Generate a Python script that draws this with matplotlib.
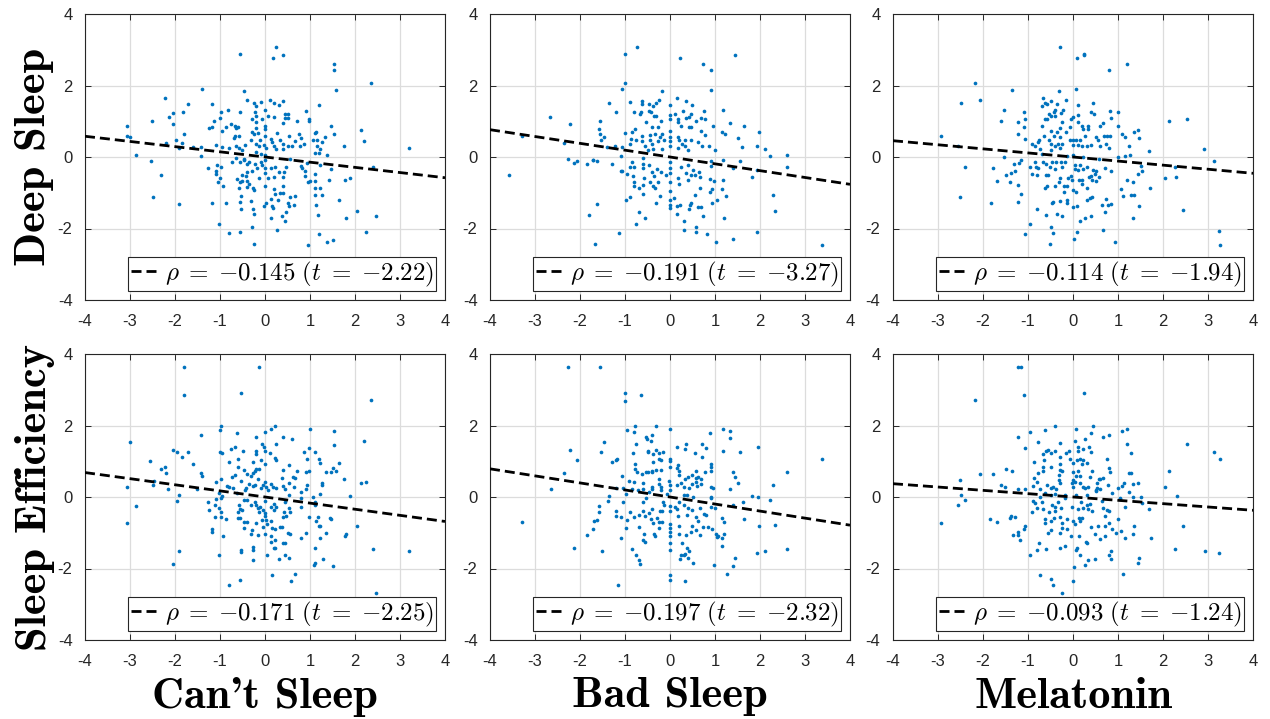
import matplotlib
matplotlib.use('Agg')
import matplotlib.pyplot as plt
import numpy as np

plt.rcParams['mathtext.fontset'] = 'cm'
plt.rcParams['font.family'] = ['Liberation Sans', 'DejaVu Sans']

row_labels = ['Deep Sleep', 'Sleep Efficiency']
col_labels = ["Can't Sleep", 'Bad Sleep', 'Melatonin']
rho = [[-0.145, -0.191, -0.114], [-0.171, -0.197, -0.093]]
tstat = [[-2.22, -3.27, -1.94], [-2.25, -2.32, -1.24]]
x_ticks = [-4, -3, -2, -1, 0, 1, 2, 3, 4]
y_ticks = [-4, -2, 0, 2, 4]

cant_deep = [
(-0.55,2.88),(0.24,3.07),(0.17,2.76),(0.41,2.86),(1.53,2.6),(1.53,2.44),(2.35,2.06),(-1.4,1.91),(-0.47,1.84),(1.58,1.87),
(-2.22,1.65),(-0.41,1.59),(0.1,1.6),(0.21,1.5),(0.39,1.58),(0.32,1.46),(-0.24,1.5),(-0.1,1.54),(-0.2,1.42),(-1.72,1.47),
(1.21,1.45),(-1.18,1.49),(-2.05,1.23),(-2.13,1.12),(-1.82,1.25),(-2.04,0.93),(-2.52,1.02),(-3.07,0.87),(-0.82,1.32),(-0.98,1.26),
(-0.99,1.08),(-1.13,1.0),(-0.56,1.26),(-0.22,1.25),(-0.01,1.32),(-0.19,1.16),(-0.29,1.06),(-0.06,1.06),(-0.19,0.98),(0.06,1.16),
(0.21,1.13),(0.44,1.21),(0.51,1.2),(0.44,1.09),(0.5,1.1),(0.4,0.96),(0.92,1.29),(0.97,1.07),(0.97,1.0),(0.7,1.0),
(-1.24,0.82),(-1.18,0.85),(-0.87,0.84),(-0.76,0.91),(-0.66,0.86),(-0.64,0.8),(-0.61,0.84),(-0.96,0.72),(-1.81,0.65),(-0.19,0.82),
(0.0,0.87),(0.0,0.78),(-0.29,0.69),(-0.24,0.63),(-0.16,0.66),(0.01,0.6),(0.27,0.68),(0.54,0.6),(0.76,0.64),(1.1,0.68),
(1.14,0.69),(1.46,0.87),(1.53,0.65),(2.13,0.76),(1.33,0.55),(2.2,0.46),(-3.07,0.6),(-3.0,0.56),(-1.97,0.48),(-2.21,0.4),
(-1.85,0.4),(-1.91,0.25),(-1.6,0.28),(-1.43,0.28),(-1.1,0.33),(-0.96,0.28),(-0.8,0.26),(-0.64,0.3),(-0.58,0.26),(-0.45,0.33),
(-0.67,0.59),(-0.7,0.53),(-0.58,0.6),(-0.51,0.19),(-0.31,0.47),(-0.12,0.48),(-0.2,0.37),(-0.14,0.3),(-0.02,0.33),(0.02,0.26),
(0.13,0.51),(0.16,0.41),(0.21,0.3),(0.24,0.23),(0.33,0.47),(0.39,0.35),(0.41,0.23),(0.5,0.3),(0.59,0.3),(0.66,0.45),
(0.8,0.53),(0.77,0.32),(0.87,0.35),(1.07,0.47),(1.16,0.47),(1.16,0.3),(1.23,0.23),(1.26,0.42),(1.76,0.32),(3.19,0.24),
(-2.87,0.06),(-1.43,0.03),(-0.2,0.14),(-0.08,0.09),(1.1,0.11),(1.19,0.11),(1.37,0.05),(-0.47,-0.05),(0.01,0.05),(0.55,-0.05),
(-2.54,-0.12),(-2.31,-0.51),(-2.48,-1.13),(-1.91,-1.32),(-1.27,-0.31),(-1.1,-0.38),(-1.06,-0.22),(-0.97,-0.27),(-1.09,-0.48),(-0.99,-0.6),
(-1.05,-0.69),(-0.94,-0.8),(-1.18,-1.28),(-0.86,-1.3),(-1.03,-1.87),(-0.8,-2.13),(-0.56,-2.09),(-0.29,-1.96),(-0.25,-2.42),(-0.74,-0.15),
(-0.64,-0.04),(-0.55,-0.13),(-0.46,-0.08),(-0.4,-0.2),(-0.35,-0.13),(-0.22,-0.2),(-0.18,-0.32),(-0.29,-0.38),(-0.4,-0.41),(-0.51,-0.5),
(-0.43,-0.52),(-0.62,-0.61),(-0.56,-0.69),(-0.51,-0.66),(-0.4,-0.66),(-0.35,-0.76),(-0.4,-0.83),(-0.26,-0.88),(-0.24,-0.93),(-0.57,-0.86),
(-0.14,-0.58),(-0.1,-0.13),(-0.07,-0.22),(0.0,-0.08),(0.0,-0.32),(0.0,-0.46),(0.0,-0.8),(0.07,-0.6),(0.14,-0.32),(0.19,-0.55),
(0.23,-0.27),(0.32,-0.43),(0.39,-0.55),(0.43,-0.41),(0.47,-0.28),(0.2,-0.89),(0.22,-1.03),(0.33,-1.0),(0.39,-0.8),(0.41,-1.0),
(0.29,-1.21),(0.13,-1.18),(0.02,-1.3),(-0.03,-1.36),(0.15,-1.36),(0.17,-1.42),(0.55,-1.13),(0.66,-1.09),(0.51,-1.28),(0.54,-1.37),
(0.65,-1.34),(0.47,-1.53),(0.37,-1.65),(0.14,-1.72),(0.44,-1.78),(0.26,-2.03),(-0.53,-1.09),(-0.56,-1.27),(-0.53,-1.46),(-0.27,-1.46),
(-0.24,-1.6),(-0.31,-1.24),(0.79,-0.26),(0.82,-0.3),(0.93,-0.18),(0.88,-0.4),(0.88,-0.53),(1.11,-0.47),(1.12,-0.66),(1.01,-0.66),
(0.96,-0.71),(1.1,-0.87),(1.22,-0.87),(1.12,-1.06),(1.27,-1.06),(1.13,-1.34),(1.18,-1.62),(1.21,-2.15),(0.96,-2.46),(1.38,-2.37),
(1.51,-2.31),(1.22,-0.22),(1.46,-0.34),(1.43,-0.63),(1.77,-0.64),(1.89,-0.58),(1.65,-1.2),(1.81,-1.72),(2.04,-1.5),(2.46,-1.65),
(2.24,-2.1),(2.39,-0.27),
]

bad_deep = [
(-0.74,3.07),(-1.0,2.88),(0.23,2.76),(1.45,2.86),(0.74,2.6),(0.91,2.44),(-1.0,2.06),(-1.07,1.91),(0.91,1.88),(-0.18,1.84),
(-0.88,1.54),(-1.36,1.51),(-0.62,1.58),(-0.62,1.49),(-0.47,1.47),(-0.38,1.42),(-0.31,1.51),(-0.25,1.6),(-0.01,1.46),(0.16,1.65),
(0.36,1.58),(0.48,1.46),(0.76,1.29),(1.18,1.32),(-1.19,1.26),(-0.79,1.26),(-0.67,1.2),(-0.64,1.26),(-0.47,1.28),(-0.42,1.25),
(-0.36,1.15),(-0.32,1.15),(-0.54,0.98),(-0.19,1.0),(-0.01,1.17),(-0.01,1.06),(0.12,1.2),(0.17,1.05),(0.17,0.98),(0.28,1.3),
(0.36,1.1),(0.47,1.21),(0.43,1.12),(0.57,1.0),(0.69,1.1),(0.78,1.07),(0.42,0.85),(0.47,0.85),(0.25,0.88),(-1.56,1.02),
(-1.58,0.79),(-1.55,0.65),(-1.46,0.56),(-1.54,0.48),(-2.66,1.13),(-2.22,0.93),(-3.29,0.59),(-2.36,0.4),(-1.0,0.68),(-0.84,0.71),
(-0.77,0.79),(-0.4,0.84),(-0.27,0.84),(-0.63,0.6),(-0.45,0.62),(-0.34,0.65),(-0.18,0.65),(-0.22,0.56),(-0.01,0.72),(-0.01,0.56),
(-0.01,0.44),(-0.01,0.32),(-0.86,0.5),(-0.76,0.47),(-0.63,0.45),(-0.45,0.47),(-0.39,0.37),(-0.27,0.45),(-0.13,0.48),(0.17,0.56),
(0.21,0.48),(0.27,0.37),(0.34,0.47),(0.46,0.47),(0.62,0.41),(0.68,0.74),(0.77,0.61),(0.86,0.3),(0.96,0.86),(1.15,0.7),
(1.22,0.63),(1.33,0.94),(1.5,0.54),(1.64,0.87),(1.61,0.27),(1.98,0.69),(1.94,0.3),(2.11,0.23),(2.6,0.06),(2.23,0.02),
(-1.39,0.28),(-1.23,0.3),(-1.06,0.28),(-1.1,0.03),(-0.9,0.35),(-0.55,0.32),(-0.5,0.19),(-0.37,0.23),(-0.18,0.23),(0.18,0.26),
(0.34,0.3),(0.4,0.2),(0.71,0.3),(0.99,0.19),(-2.26,-0.05),(-1.71,-0.07),(-3.58,-0.5),
(-2.13,-0.16),(-2.06,-0.12),(-1.84,-0.2),(-1.71,-0.09),(-1.63,-0.12),(-1.28,-0.2),(-1.1,-0.39),(-1.06,-0.39),(-0.95,-0.48),(-0.89,-0.29),
(-0.84,-0.15),(-0.79,-0.27),(-0.83,-0.52),(-0.79,-0.69),(-0.81,-0.8),(-0.68,-0.88),(-0.58,-0.6),(-0.59,-0.78),(-0.61,-1.03),(-0.6,-0.2),
(-0.6,-0.32),(-0.59,-0.02),(-0.47,-0.22),(-0.4,-0.41),(-0.36,-0.52),(-0.45,-0.69),(-0.38,-0.8),(-0.33,-0.88),(-0.27,-0.71),(-0.2,-0.41),
(-0.1,-0.5),(-0.3,-0.34),(-0.01,-0.13),(-0.01,-0.32),(-0.01,-0.46),(-0.01,-0.69),(-0.01,-0.95),(-0.01,-1.2),(-0.01,-1.34),(-0.01,-1.44),
(0.09,-1.14),(0.17,-0.58),(0.2,-0.76),(0.16,-1.36),(0.22,-1.34),(0.16,-1.6),(0.32,-1.78),(0.31,-2.04),(0.24,-0.28),(0.36,-0.46),
(0.4,-0.64),(0.47,-0.49),(0.52,-0.36),(0.56,-0.5),(0.39,-0.22),(0.65,-0.41),(0.66,-0.56),(0.56,-1.06),(0.44,-1.34),(0.42,-1.46),
(0.47,-1.29),(0.63,-1.41),(0.69,-1.39),(0.66,-0.86),(0.73,-1.65),(0.57,-1.96),(0.58,-2.11),(0.83,-2.15),(1.02,-2.37),(1.41,-2.3),
(0.9,-0.11),(0.9,-0.24),(0.89,-0.62),(0.98,-0.67),(0.93,-0.89),(0.89,-0.99),(1.05,-1.2),(0.94,-1.28),(1.15,-0.89),(1.17,-0.64),
(1.25,-1.1),(1.19,-1.72),(1.17,-0.09),(1.56,-0.12),(1.39,-0.32),(1.82,-0.57),(1.94,-0.37),(2.6,-0.27),(2.28,-1.06),(2.33,-1.5),
(1.94,-2.09),(3.38,-2.46),(-1.63,-1.32),(-1.79,-1.62),(-1.67,-2.42),(-1.14,-2.12),(-0.75,-1.87),(-0.69,-1.53),(-0.55,-1.72),(-0.22,-1.1),
(-0.31,-1.29),(-0.98,-1.2),(-0.9,-1.13),
]

mel_deep = [
(-0.3,3.07),(0.08,2.76),(0.24,2.88),(0.24,2.86),(1.2,2.6),(0.8,2.44),(-2.17,2.06),(-1.35,1.88),(-0.31,1.84),(0.07,1.91),
(-2.49,1.51),(-2.07,1.59),(-1.53,1.31),(-1.61,1.02),(-1.22,0.98),(-1.09,1.25),(-1.07,1.07),(-1.09,0.84),(-1.22,0.65),(-1.06,0.51),
(-2.93,0.58),(-2.55,0.32),(-0.67,1.66),(-0.63,1.52),(-0.58,1.47),(-0.49,1.57),(-0.35,1.49),(-0.15,1.6),(0.1,1.46),(0.45,1.51),
(-0.7,1.43),(-0.53,1.21),(-0.42,1.26),(-0.39,1.31),(-0.22,1.31),(-0.27,1.23),(-0.49,1.16),(-0.63,1.07),(-0.39,1.16),(-0.58,1.05),
(-0.25,0.98),(-0.04,1.06),(0.0,1.13),(0.11,1.17),(0.11,0.98),(0.41,1.26),(0.46,1.19),(0.2,0.87),(0.33,0.87),(0.22,0.79),
(0.33,0.78),(0.67,0.95),(0.82,1.3),(0.85,1.1),(0.99,1.25),(0.59,0.86),(1.0,0.88),(1.08,0.65),(1.16,0.56),(1.36,0.7),
(1.45,0.76),(1.46,0.52),(2.13,1.0),(2.54,1.06),(-0.69,0.88),(-0.48,0.73),(-0.35,0.7),(-0.28,0.82),(-0.06,0.84),(-0.16,0.7),
(-0.28,0.56),(-0.42,0.59),(-0.65,0.6),(-0.53,0.48),(-0.76,0.47),(-0.77,0.41),(-0.91,0.35),(-0.85,0.3),(-0.74,0.23),(-0.48,0.37),
(-0.41,0.3),(-0.33,0.35),(-0.3,0.26),(-0.25,0.37),(-0.07,0.47),(-0.01,0.47),(0.06,0.47),(0.16,0.47),(0.0,0.33),(0.11,0.33),
(0.21,0.3),(0.31,0.3),(0.39,0.33),(0.26,0.6),(0.52,0.56),(0.56,0.47),(0.68,0.6),(0.76,0.59),(0.83,0.59),(0.74,0.37),
(0.79,0.26),(0.61,0.3),(1.25,0.3),(1.68,0.18),(2.92,0.23),(-1.54,0.0),(-1.15,-0.07),(-0.68,0.09),(-0.49,0.19),(-0.13,0.02),
(0.0,0.05),(0.22,0.0),(0.58,-0.06),(1.0,0.0),(1.15,0.02),(1.27,0.05),
(-2.41,-0.29),(-2.51,-1.13),(-1.83,-1.29),(-1.77,-0.32),(-1.7,-0.66),(-1.5,-0.51),(-1.37,-0.44),(-1.4,-0.71),(-1.29,-0.4),(-1.32,-0.2),
(-1.21,-0.18),(-1.23,-0.78),(-1.16,-1.03),(-1.23,-1.27),(-0.96,-0.29),(-0.92,-0.47),(-0.84,-0.15),(-0.82,-0.29),(-0.81,-0.5),(-0.77,-0.32),
(-0.66,-0.13),(-0.61,-0.2),(-0.61,-0.49),(-0.56,-0.49),(-0.52,-0.27),(-0.47,-0.13),(-0.41,-0.34),(-0.37,-0.13),(-0.26,-0.13),(-0.24,-0.29),
(-0.18,-0.15),(-0.28,-0.6),(-0.31,-0.71),(-0.41,-0.8),(-0.63,-0.88),(-0.58,-0.8),(-0.21,-0.8),(-0.19,-0.99),(-0.12,-0.58),(-0.13,-0.8),
(-0.04,-0.52),(-0.02,-0.64),(-0.01,-0.92),(0.07,-0.99),(0.04,-0.22),(0.04,-0.34),(0.12,-0.36),(0.16,-0.22),(0.22,-0.34),(0.13,-0.64),
(0.21,-0.76),(0.32,-0.88),(0.2,-0.64),(0.36,-0.55),(0.42,-0.64),(0.3,-0.29),(0.45,-0.36),(0.51,-0.39),(0.48,-0.48),(0.39,-0.52),
(0.52,-0.66),(0.58,-0.55),(0.71,-0.32),(0.84,-0.4),(0.42,-1.11),(0.38,-1.14),(0.32,-1.2),(0.73,-1.18),(0.65,-1.34),(0.78,-1.34),
(0.85,-1.32),(0.71,-1.53),(0.41,-1.65),(0.26,-1.72),(0.16,-1.78),(0.08,-1.36),(0.0,-1.41),(-0.13,-1.2),(-0.13,-1.28),(-0.28,-1.23),
(-0.44,-1.27),(-0.46,-1.29),(-0.35,-1.6),(-0.24,-1.65),(-0.61,-1.62),(-0.79,-1.46),(-0.96,-1.87),(-1.07,-2.15),(-0.5,-1.96),(-0.44,-2.12),
(-0.52,-2.42),(0.02,-2.3),(0.09,-2.1),(0.67,-2.03),(0.94,-2.37),(1.07,-0.89),(1.1,-1.09),(1.2,-0.65),(1.34,-0.69),(1.29,-1.06),
(1.35,-1.06),(1.47,-1.37),(1.34,-1.72),(1.45,-0.47),(1.54,-0.4),(1.51,-0.24),(1.72,-0.88),(2.04,-0.6),(2.28,-0.57),(2.26,-0.27),
(2.44,-1.49),(3.14,-0.11),(3.24,-2.08),(3.26,-2.46),
]

cant_eff = [
(-1.81,3.63),(-0.13,3.65),(-1.81,2.85),(-0.54,2.92),(2.35,2.7),(-3.0,1.53),(-1.43,1.73),(-1.0,1.87),(-0.97,1.99),(-0.62,1.8),
(-0.19,1.69),(0.0,1.82),(0.13,1.91),(0.22,1.98),(0.39,1.67),(0.59,1.62),(1.01,1.89),(1.53,1.86),(1.53,1.46),(2.2,1.58),
(-2.55,1.02),(-2.04,1.32),(-1.96,1.27),(-1.72,1.26),(-1.85,1.13),(-2.31,0.77),(-2.22,0.84),(-2.21,0.66),(-1.6,0.91),(-1.43,0.68),
(-1.39,0.6),(-2.46,0.46),(-2.5,0.33),(-3.07,0.28),(-2.15,0.21),(-1.91,0.06),(-1.52,0.21),(-0.99,1.27),(-0.96,1.23),(-0.76,1.34),
(-0.66,1.4),(-0.48,1.29),(-0.61,1.06),(-0.8,0.99),(-0.59,0.84),(-0.47,0.76),(-0.26,0.99),(-0.19,1.3),(-0.19,1.2),(-0.1,1.03),
(-0.07,1.48),(-0.03,1.39),(0.0,1.29),(0.11,1.24),(0.0,0.92),(0.22,1.08),(0.24,1.03),(0.25,1.49),(0.53,0.9),(0.87,1.27),
(0.97,1.38),(1.1,1.25),(1.19,1.05),(1.22,0.96),(0.94,1.05),(0.91,0.71),(0.98,0.74),(0.7,0.73),(0.4,0.76),(0.38,0.52),
(0.62,0.57),(0.67,0.52),(0.54,0.4),(1.36,0.69),(1.46,0.71),(1.52,0.8),(1.58,0.74),(1.65,0.94),(1.76,0.49),(2.13,0.38),
(2.24,0.42),(1.89,0.04),(-1.1,0.43),(-0.97,0.49),(-0.85,0.31),(-0.73,0.55),(-0.66,0.62),(-0.72,0.24),(-0.53,0.46),(-0.41,0.63),
(-0.36,0.35),(-0.31,0.59),(-0.26,0.68),(-0.22,0.73),(-0.19,0.77),(-0.14,0.79),(-0.15,0.49),(-0.04,0.34),(0.0,0.43),(0.02,0.27),
(0.13,0.36),(0.17,0.29),(0.24,0.25),(0.41,0.31),(0.44,0.21),(0.64,0.29),(0.8,0.14),(0.9,0.21),(0.93,0.34),(1.27,0.38),
(1.27,0.34),(1.07,0.01),(1.23,0.07),(-0.44,0.2),(-0.42,0.24),(-0.96,0.03),(-0.79,0.27),(-0.62,0.1),(-0.27,0.31),(-0.23,0.34),
(-0.09,0.26),(0.06,0.2),(0.54,0.06),(-1.03,0.12),
(-2.87,-0.26),(-3.07,-0.72),(-1.96,-0.11),(-1.91,-1.51),(-2.04,-1.88),(-1.27,-0.13),(-1.24,-0.35),(-1.1,-0.06),(-1.12,-0.22),(-1.03,-0.3),
(-0.98,-0.41),(-0.97,-0.04),(-1.12,-0.55),(-0.97,-0.56),(-0.86,-0.62),(-1.18,-0.9),(-1.18,-0.99),(-0.94,-1.08),(-1.02,-1.62),(-0.8,-2.46),
(-0.55,-2.31),(-0.54,-1.53),(-0.53,-1.48),(-0.58,-0.21),(-0.56,-0.34),(-0.51,-0.36),(-0.61,-0.41),(-0.61,-0.58),(-0.56,-0.58),(-0.47,-0.71),
(-0.41,-0.71),(-0.47,-0.88),(-0.46,-0.07),(-0.41,-0.08),(-0.31,-0.22),(-0.23,-0.15),(-0.2,-0.22),(-0.16,-0.32),(-0.11,-0.27),(-0.14,-0.41),
(-0.05,-0.35),(-0.01,-0.11),(-0.01,-0.46),(-0.01,-0.52),(-0.07,-0.64),(0.03,-0.64),(-0.2,-0.73),(-0.05,-0.83),(0.04,-0.76),(-0.3,-0.92),
(-0.31,-1.04),(-0.16,-1.06),(0.0,-1.04),(-0.27,-1.39),(-0.27,-1.48),(-0.26,-1.76),(0.05,-1.63),(0.14,-0.67),(0.16,-0.88),(0.22,-0.9),
(0.2,-0.19),(0.21,-0.37),(0.24,-0.28),(0.13,-0.27),(0.33,-0.83),(0.37,-0.83),(0.39,-0.55),(0.43,-0.41),(0.47,-0.52),(0.54,-0.32),
(0.56,-0.41),(0.44,-0.13),(0.5,-1.02),(0.56,-1.04),(0.13,-1.09),(0.14,-1.25),(0.22,-1.2),(0.4,-1.29),(0.44,-1.3),(0.19,-1.44),
(0.23,-1.42),(0.44,-1.62),(0.53,-1.7),(0.32,-1.73),(0.66,-2.15),(0.58,-2.35),(0.15,-2.19),(0.79,-0.28),(0.8,-0.04),(0.97,-0.55),
(1.1,-0.13),(1.12,-0.22),(1.17,-0.55),(1.14,-0.67),(1.19,-0.8),(1.22,-0.81),(0.9,-1.02),(0.79,-1.16),(1.22,-1.16),(1.36,-1.02),
(1.44,-0.6),(1.46,-0.61),(1.1,-1.44),(1.28,-1.73),(1.11,-1.86),(1.09,-1.9),(1.51,-1.94),(1.77,-1.08),(1.81,-1.04),(2.04,-0.8),
(2.39,-1.46),(3.19,-1.51),(2.46,-2.68),
]

bad_eff = [
(-2.26,3.65),(-1.55,3.63),(-1.0,2.92),(-1.0,2.69),(-0.65,2.85),(-0.01,1.9),(-0.78,1.99),(-0.95,1.87),(-0.79,1.82),(-0.31,1.99),
(-0.54,1.69),(-0.52,1.62),(-0.39,1.73),(-0.42,1.57),(-0.75,1.49),(-1.46,1.53),(-1.54,1.27),(-2.22,1.32),(-2.07,1.03),(-1.28,0.99),
(-1.17,1.07),(-1.19,1.03),(-0.83,1.22),(-0.49,1.29),(-0.48,1.26),(-0.31,1.31),(-0.25,1.24),(-0.16,1.27),(-0.38,1.19),(-0.37,0.99),
(-0.24,1.05),(-0.19,1.03),(-0.78,0.91),(-0.77,0.77),(-0.74,0.69),(-0.62,0.65),(-0.54,0.7),(-0.48,0.7),(-0.41,0.74),(-0.39,0.7),
(-0.32,0.75),(-0.19,0.76),(0.15,1.41),(0.36,1.48),(0.34,1.34),(0.56,1.23),(0.72,1.47),(0.79,1.38),(0.71,1.13),(0.89,1.8),
(1.17,1.89),(1.33,1.86),(1.34,1.66),(1.18,1.29),(1.55,1.25),(1.95,1.41),(3.38,1.05),(-0.01,1.07),(-0.01,1.0),(-0.01,0.85),
(0.17,0.9),(0.16,0.8),(0.19,0.72),(0.19,0.62),(0.48,0.62),(0.58,0.74),(0.58,0.52),(0.63,0.57),(0.68,0.49),(0.77,0.71),
(0.9,0.92),(0.9,0.83),(0.9,0.74),(1.39,0.71),(1.45,0.57),(1.51,0.38),(1.33,0.21),(0.92,0.29),(0.96,0.26),(2.6,0.69),
(2.28,0.34),(1.82,0.04),(1.95,-0.01),(2.23,-0.08),(-2.36,0.66),(-2.65,0.21),(-1.07,0.6),(-0.91,0.46),(-1.19,0.25),(-1.05,0.24),
(-1.36,0.04),(-0.98,0.07),(-0.84,0.21),(-0.79,0.41),(-0.72,0.2),(-0.6,0.38),(-0.59,0.21),(-0.47,0.13),(-0.4,0.29),(-0.39,0.22),
(-0.24,0.49),(-0.24,0.35),(-0.19,0.29),(-0.02,0.46),(-0.01,0.34),(0.01,0.2),(0.16,0.34),(0.24,0.38),(0.34,0.49),(0.4,0.55),
(0.3,0.29),(0.42,0.26),(0.49,0.36),(0.57,0.43),(0.6,0.31),(0.68,0.36),(0.3,0.06),(0.38,0.06),(0.51,0.01),(0.9,0.01),
(-0.2,0.2),(-0.07,0.07),
(-3.29,-0.71),(-2.13,-1.43),(-1.84,-1.06),(-1.71,-0.89),(-1.68,-0.67),(-1.63,-0.65),(-1.58,-0.41),(-1.57,-0.24),(-1.52,-1.51),(-1.38,-0.11),
(-1.21,-0.38),(-1.21,-0.54),(-1.09,-0.55),(-1.09,-1.14),(-1.15,-2.46),(-1.05,-0.15),(-0.97,-0.88),(-0.95,-0.65),(-0.88,-0.41),(-0.8,-0.55),
(-0.84,-1.45),(-0.75,-1.63),(-0.69,-1.76),(-0.67,-1.88),(-0.68,-0.85),(-0.68,-0.5),(-0.6,-0.39),(-0.56,-0.52),(-0.58,-1.03),(-0.61,-1.2),
(-0.55,-1.25),(-0.6,-0.13),(-0.54,-0.02),(-0.47,-0.46),(-0.43,-0.62),(-0.38,-0.73),(-0.4,-0.34),(-0.36,-1.04),(-0.34,-1.09),(-0.28,-0.6),
(-0.25,-0.88),(-0.22,-0.38),(-0.17,-0.39),(-0.24,-0.71),(-0.17,-0.71),(-0.15,-0.13),(-0.13,-0.22),(-0.01,-0.24),(-0.01,-0.39),(0.0,-0.76),
(-0.01,-0.88),(-0.01,-0.97),(-0.01,-1.09),(-0.01,-1.3),(-0.01,-1.48),(0.0,-2.19),(0.0,-2.31),(0.34,-2.35),(0.1,-0.27),(0.16,-0.34),
(0.19,-0.15),(0.18,-0.52),(0.19,-0.8),(0.19,-1.04),(0.27,-1.28),(0.24,-1.62),(0.3,-1.62),(0.23,-1.73),(0.33,-1.6),(0.38,-1.44),
(0.43,-1.51),(0.4,-1.72),(0.5,-1.85),(0.36,-1.06),(0.47,-0.97),(0.49,-0.81),(0.57,-0.91),(0.62,-0.67),(0.38,-0.5),(0.4,-0.32),
(0.49,-0.37),(0.57,-0.55),(0.3,-0.22),(0.67,-0.32),(0.73,-0.83),(0.66,-1.06),(0.76,-0.48),(0.79,-0.49),(0.85,-0.83),(0.9,-0.27),
(0.99,-0.32),(0.94,-0.9),(1.03,-1.04),(1.05,-1.13),(1.07,-1.08),(0.97,-1.9),(0.91,-0.02),(1.15,-0.6),(1.2,-0.71),(1.2,-1.04),
(1.16,-1.14),(1.16,-1.37),(1.26,-2.15),(1.4,-1.94),(1.45,-1.72),(1.39,-0.21),(1.62,-0.15),(1.64,-0.62),(1.98,-0.8),(2.33,-0.79),
(2.6,-1.46),(2.11,-1.5),(1.94,-1.58),
]

mel_eff = [
(-1.23,3.64),(-1.15,3.64),(-1.08,2.85),(-2.17,2.7),(0.24,2.92),(-0.4,2.0),(-0.62,1.87),(-0.96,1.82),(-1.22,1.69),(-0.77,1.53),
(-1.07,1.38),(-0.3,1.5),(0.07,1.91),(0.45,1.98),(0.41,1.8),(0.05,1.58),(0.26,1.62),(0.1,1.41),(0.1,1.3),(0.22,1.34),
(0.36,1.41),(0.41,1.27),(0.67,1.67),(0.81,1.73),(1.08,1.86),(1.2,1.89),(1.2,1.47),(1.28,1.23),(2.54,1.48),(3.14,1.25),
(3.26,1.05),(-0.67,1.19),(-0.59,1.3),(-0.56,1.31),(-0.49,1.22),(-0.4,1.28),(-0.15,1.24),(-0.1,1.29),(-0.28,1.13),(-0.65,1.03),
(-0.86,0.99),(-0.49,0.85),(-0.67,0.83),(-0.66,0.73),(-0.28,0.91),(-0.3,0.76),(-0.25,0.74),(-0.77,0.66),(-0.86,0.54),(-0.81,0.43),
(-1.5,0.77),(-1.35,0.74),(-1.77,0.65),(-2.07,0.64),(-2.51,0.47),(-2.49,0.05),(-1.6,0.33),(-1.52,0.27),(-1.22,0.21),(-1.06,0.21),
(-0.9,0.31),(-0.74,0.21),(-0.58,0.34),(-0.5,0.24),(-0.45,0.29),(-0.37,0.21),(-0.32,0.48),(-0.31,0.61),(-0.28,0.38),(-0.06,1.07),
(0.01,0.94),(0.08,1.03),(0.15,1.05),(0.22,1.03),(0.2,0.91),(0.31,0.94),(0.1,0.74),(0.0,0.71),(0.16,0.6),(0.07,0.59),
(-0.01,0.48),(-0.03,0.4),(0.04,0.43),(0.16,0.4),(0.22,0.29),(0.27,0.26),(0.33,0.29),(-0.01,0.29),(0.42,0.73),(0.37,0.57),
(0.58,0.49),(0.6,0.49),(0.67,0.54),(0.53,0.38),(0.54,0.24),(0.6,0.21),(0.5,0.2),(0.75,1.07),(0.8,0.8),(0.83,0.71),
(0.77,0.33),(0.99,0.26),(1.08,0.31),(1.14,0.38),(1.25,0.68),(1.28,0.68),(1.34,0.35),(1.44,0.38),(1.25,0.15),(1.34,0.0),
(1.52,0.0),(2.13,0.73),(2.05,0.28),(2.3,0.04),(1.05,-0.02),(0.87,0.1),(0.52,0.18),(0.3,0.06),(0.07,0.06),(-0.18,0.06),
(-0.39,0.07),(-0.62,0.1),(-0.74,-0.01),(-0.48,0.06),
(-2.94,-0.72),(-2.55,-0.23),(-2.41,-0.09),(-1.84,-0.62),(-1.7,-0.71),(-1.4,-0.58),(-1.37,-0.52),(-1.3,-0.55),(-1.34,-1.06),(-1.23,-0.99),
(-1.23,-1.06),(-1.17,-1.2),(-1.1,-0.9),(-1.07,-0.82),(-0.96,-1.63),(-0.91,-0.41),(-0.88,-0.11),(-0.84,-0.18),(-0.8,-0.32),(-0.79,-1.48),
(-0.75,-1.29),(-0.74,-2.18),(-0.7,-0.13),(-0.67,-0.34),(-0.62,-0.62),(-0.62,-0.74),(-0.59,-1.45),(-0.56,-1.02),(-0.54,-0.41),(-0.5,-0.92),
(-0.5,-0.67),(-0.48,-2.3),(-0.44,-2.46),(-0.46,-0.21),(-0.41,-0.39),(-0.39,-0.27),(-0.42,-0.58),(-0.33,-0.13),(-0.3,-1.42),(-0.29,-0.55),
(-0.27,-0.32),(-0.24,-0.72),(-0.24,-0.88),(-0.18,-1.37),(-0.28,-1.02),(-0.13,-0.9),(-0.13,-0.62),(-0.18,-0.02),(-0.24,-2.68),(-0.04,-1.09),
(-0.03,-0.27),(-0.01,-0.67),(0.01,-2.35),(0.03,-1.95),(0.06,-1.48),(0.09,-1.42),(0.04,-0.76),(0.1,-0.34),(0.13,-0.6),(0.16,-0.67),
(0.21,-0.6),(0.18,-0.13),(0.22,-0.32),(0.3,-0.22),(0.33,-0.34),(0.37,-0.2),(0.43,-0.39),(0.13,-1.09),(0.16,-1.62),(0.28,-1.25),
(0.3,-1.3),(0.33,-1.76),(0.27,-1.9),(0.41,-0.83),(0.48,-1.73),(0.49,-1.04),(0.56,-0.8),(0.59,-1.18),(0.64,-0.11),(0.67,-0.3),
(0.71,-0.52),(0.7,-0.8),(0.72,-1.09),(0.76,-0.36),(0.8,-0.39),(0.8,-0.74),(0.79,-1.62),(0.84,-1.51),(0.84,-1.73),(0.86,-0.9),
(0.95,-1.02),(1.0,-0.62),(1.06,-0.95),(1.1,-2.15),(1.05,-0.06),(1.15,-0.28),(1.15,-1.16),(1.34,-1.04),(1.36,-0.8),(1.47,-1.7),
(1.45,-1.86),(1.54,-0.18),(1.68,-0.34),(1.73,-1.16),(2.27,-1.46),(2.45,-0.8),(2.93,-1.51),(3.24,-1.58),
]

panels = [[cant_deep, bad_deep, mel_deep], [cant_eff, bad_eff, mel_eff]]

W, H = 1270, 719
fig = plt.figure(figsize=(W / 100, H / 100), dpi=100)
col_left = [85, 490, 893]
row_top = [14, 354]
aw, ah = 360, 286
dot_color = '#0072BD'
ink = '#262626'

for r in range(2):
    for c in range(3):
        ax = fig.add_axes([col_left[c] / W, 1 - (row_top[r] + ah) / H, aw / W, ah / H])
        xs, ys = zip(*panels[r][c])
        ax.scatter(xs, ys, s=7, color=dot_color, linewidths=0, zorder=3)
        xl = np.array([x_ticks[0], x_ticks[-1]], dtype=float)
        label = r'$\rho\;=\;{%.3f}\ (t\;=\;{%.2f})$' % (rho[r][c], tstat[r][c])
        ax.plot(xl, rho[r][c] * xl, color='k', lw=2, ls=(0, (3.6, 1.8)), zorder=4, label=label)
        ax.set_xlim(-4, 4)
        ax.set_ylim(-4, 4)
        ax.set_xticks(x_ticks)
        ax.set_yticks(y_ticks)
        ax.set_xticklabels([str(v) for v in x_ticks])
        ax.set_yticklabels([str(v) for v in y_ticks])
        ax.grid(True, color='#dcdcdc', lw=0.9)
        ax.set_axisbelow(True)
        ax.tick_params(direction='in', length=4, width=0.7, top=True, right=True,
                       colors=ink, labelsize=12)
        ax.tick_params(axis='x', pad=10)
        ax.tick_params(axis='y', pad=9)
        for s in ax.spines.values():
            s.set_color(ink)
            s.set_linewidth(0.8)
        leg = ax.legend(loc='lower right', fontsize=18, handlelength=1.15, handletextpad=0.2,
                        borderpad=0.1, borderaxespad=0.35, fancybox=False, framealpha=1,
                        edgecolor=ink)
        leg.get_frame().set_linewidth(0.8)

for r in range(2):
    yc = 1 - (row_top[r] + ah / 2) / H
    fig.text(35 / W, yc, row_labels[r], rotation=90, ha='center', va='center',
             fontfamily='cmb10', fontsize=32, color='k')
for c in range(3):
    xc = (col_left[c] + aw / 2) / W
    fig.text(xc, 1 - 697 / H, col_labels[c], ha='center', va='center',
             fontfamily='cmb10', fontsize=32, color='k')

fig.savefig('out.png', dpi=100)
